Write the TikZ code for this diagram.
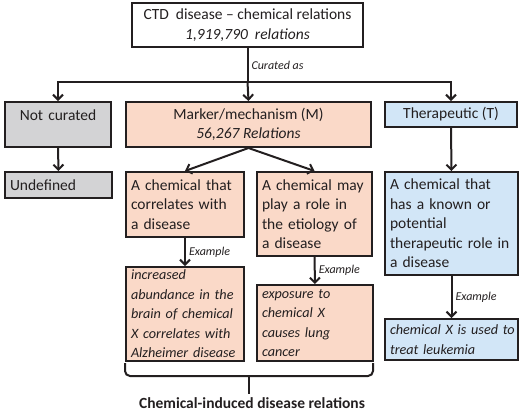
\documentclass[tikz,border=0pt]{standalone}
\usepackage{fontspec}
\setmainfont{Carlito}
\usetikzlibrary{arrows.meta}
\definecolor{ink}{HTML}{231F20}
\definecolor{greyf}{HTML}{D3D3D5}
\definecolor{salf}{HTML}{FAD9C8}
\definecolor{bluef}{HTML}{D2E6F7}
\newcommand\bodyfont{\fontsize{15.5}{19.5}\selectfont}
\newcommand\exfont{\fontsize{14.2}{19.5}\selectfont\itshape}
\newcommand\bxline[1]{\mbox{#1}}
\tikzset{
  box/.style={draw=ink, line width=2pt, inner xsep=5pt, inner ysep=0pt, anchor=north west, font=\bodyfont, text=ink},
  lbox/.style={box, align=left},
  cbox/.style={box, align=center},
  exbox/.style={lbox, font=\exfont},
  conn/.style={draw=ink, line width=2pt},
  arr/.style={conn, -{Straight Barb[length=5pt,width=10pt,line width=2pt]}},
  exlab/.style={font=\fontsize{12}{14}\selectfont\itshape, text=ink, inner sep=3pt}
}
\begin{document}
\begin{tikzpicture}[x=1pt,y=-1pt]
\useasboundingbox (0,0) rectangle (520,413);
% top
\node[cbox, fill=white, minimum width=231pt, minimum height=44pt] (top) at (131,2) {CTD\ \ disease -- chemical relations\\ \textit{1,919,790\ \ relations}};
% level 2
\node[cbox, fill=greyf, minimum width=106pt, minimum height=45pt, text width=96pt] (nc) at (4,101) {Not curated\\ \mbox{}};
\node[cbox, fill=salf, minimum width=245pt, minimum height=45pt] (m) at (125,101) {Marker/mechanism (M)\\ \textit{56,267 Relations}};
\node[cbox, fill=bluef, minimum width=132pt, minimum height=25pt] (th) at (384,101) {Therapeutic (T)};
% level 3
\node[lbox, fill=greyf, minimum width=107pt, minimum height=26pt, text width=97pt] (und) at (4,171) {Undefined};
\node[lbox, fill=salf, minimum width=118pt, minimum height=65pt, text width=108pt] (a1) at (125,171) {\bxline{A chemical that}\\ \bxline{correlates with}\\ \bxline{a disease}};
\node[lbox, fill=salf, minimum width=115pt, minimum height=84pt, text width=105pt] (a2) at (256,171) {\bxline{A chemical may}\\ \bxline{play a role in}\\ \bxline{the etiology of}\\ \bxline{a disease}};
\node[lbox, fill=bluef, minimum width=133pt, minimum height=103pt, text width=123pt] (t2) at (384,171) {\bxline{A chemical that}\\ \bxline{has a known or}\\ \bxline{potential}\\ \bxline{therapeutic role in}\\ \bxline{a disease}};
% examples
\node[exbox, fill=salf, minimum width=118pt, minimum height=94pt, text width=108pt] (e1) at (125,266) {\bxline{increased}\\ \bxline{abundance in the}\\ \bxline{brain of chemical}\\ \bxline{X correlates with}\\ \bxline{Alzheimer disease}};
\node[exbox, fill=salf, minimum width=116pt, minimum height=76pt, text width=106pt] (e2) at (256,284) {\bxline{exposure to}\\ \bxline{chemical X}\\ \bxline{causes lung}\\ \bxline{cancer}};
\node[exbox, fill=bluef, minimum width=133pt, minimum height=41pt, text width=123pt] (e3) at (384,318) {\bxline{chemical X is used to}\\ \bxline{treat leukemia}};
% connectors
\path (top.south) ++(0,34) coordinate (split);
\draw[conn] (top.south) -- node[exlab, right, pos=0.5] {Curated as} (split);
\draw[arr] (split) -| (nc.north);
\draw[arr] (split) -| (th.north);
\draw[arr] (split) -- (m.north);
\draw[arr] (nc.south) -- (und.north);
\draw[arr] (m.south) -- (a1.north);
\draw[arr] (m.south) -- (a2.north);
\draw[arr] (th.south) -- (t2.north);
\draw[arr] (a1.south) -- node[exlab, right] {Example} (e1.north);
\draw[arr] (a2.south) -- node[exlab, right] {Example} (e2.north);
\draw[arr] (t2.south) -- node[exlab, right] {Example} (e3.north);
% brace
\coordinate (bl) at (125,363);
\coordinate (br) at (373,363);
\coordinate (bm) at (249,376);
\coordinate (bt) at (249,394);
\draw[conn, rounded corners=5pt] (bl) -- (bl |- bm) -- (br |- bm) -- (br);
\draw[conn] (bm) -- (bt);
\node[font=\fontsize{15.5}{19}\selectfont\bfseries, text=ink, inner sep=0pt] (cid) at (252,403) {Chemical-induced disease relations};
\end{tikzpicture}
\end{document}
